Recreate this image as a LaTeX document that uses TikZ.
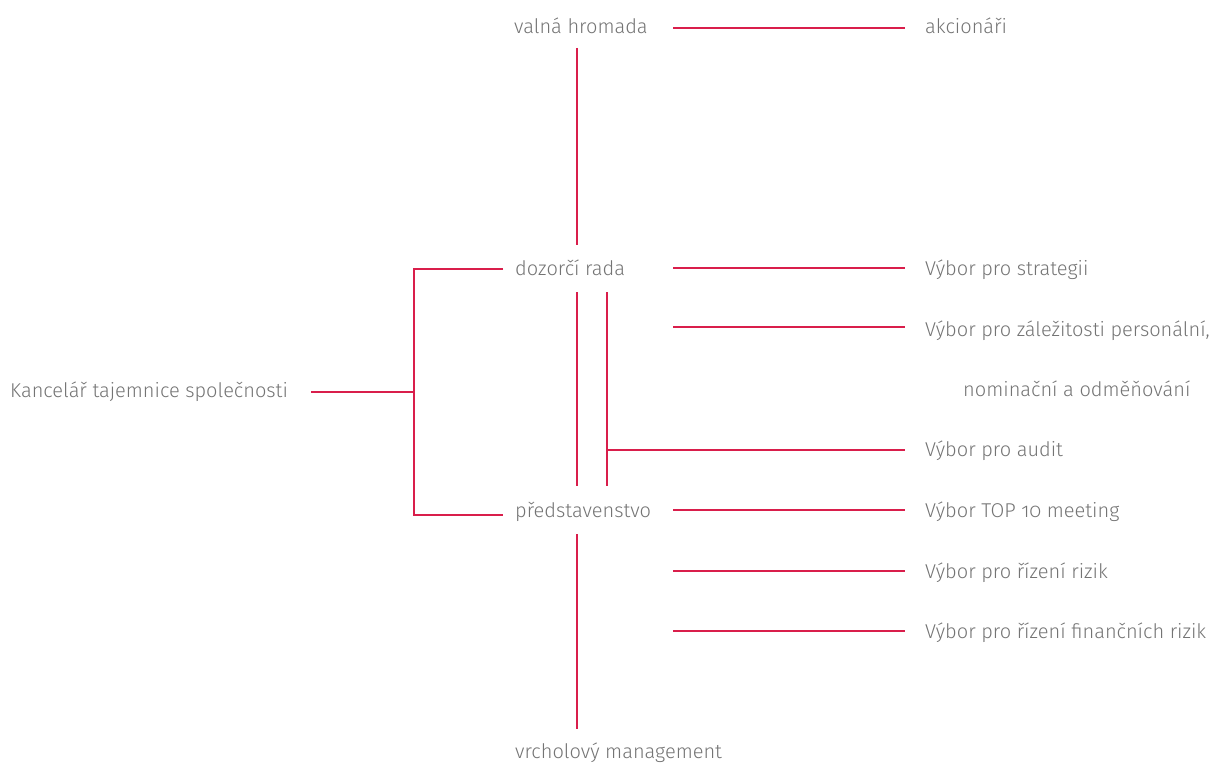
\documentclass[tikz,border=0pt]{standalone}
\usepackage{fontspec}
\setmainfont{Fira Sans Light}[Numbers=OldStyle]
\definecolor{txtgray}{HTML}{747474}
\definecolor{linered}{HTML}{D91E4B}
\begin{document}
\begin{tikzpicture}[x=1bp,y=-1bp,
  lbl/.style={anchor=base west,inner sep=0pt,text=txtgray,font=\fontsize{20bp}{24bp}\selectfont},
  conn/.style={draw=linered,line width=1.4bp}]
\useasboundingbox (0,0) rectangle (1213,765);
% text nodes
\node[lbl] (vh) at (514,33.5) {valná hromada};
\node[lbl] (ak) at (925,33.5) {akcionáři};
\node[lbl] (dr) at (515,275.5) {dozorčí rada};
\node[lbl] (vs) at (925,275.5) {Výbor pro strategii};
\node[lbl] (vz) at (925,336.5) {Výbor pro záležitosti personální,};
\node[lbl] (vn) at (963,396.5) {nominační a odměňování};
\node[lbl] (va) at (925,456.5) {Výbor pro audit};
\node[lbl] (ps) at (515,517.5) {představenstvo};
\node[lbl] (vt) at (925,517.5) {Výbor TOP 10 meeting};
\node[lbl] (vr) at (925,578.5) {Výbor pro řízení rizik};
\node[lbl] (vf) at (925,638.5) {Výbor pro řízení finančních rizik};
\node[lbl] (vm) at (515,758.5) {vrcholový management};
\node[lbl] (kt) at (10,397) {Kancelář tajemnice společnosti};
% connector end points
\coordinate (vhR) at (673,28);   \coordinate (akL) at (905,28);
\coordinate (vhB) at (577,48);   \coordinate (drT) at (577,245);
\coordinate (drR) at (673,268);  \coordinate (vsL) at (905,268);
\coordinate (zR) at (673,327);   \coordinate (vzL) at (905,327);
\coordinate (drB1) at (577,292); \coordinate (psT1) at (577,486);
\coordinate (drB2) at (607,292); \coordinate (psT2) at (607,486);
\coordinate (aJ) at (607,450);   \coordinate (vaL) at (905,450);
\coordinate (psR) at (673,510);  \coordinate (vtL) at (905,510);
\coordinate (rR) at (673,571);   \coordinate (vrL) at (905,571);
\coordinate (fR) at (673,631);   \coordinate (vfL) at (905,631);
\coordinate (psB) at (577,534);  \coordinate (vmT) at (577,729);
\coordinate (ktR) at (311,392);  \coordinate (bJ) at (414,392);
\coordinate (bT) at (414,269);   \coordinate (drL) at (503,269);
\coordinate (bB) at (414,515);   \coordinate (psL) at (503,515);
% connectors
\draw[conn] (vhR) -- (akL);
\draw[conn] (vhB) -- (drT);
\draw[conn] (drR) -- (vsL);
\draw[conn] (zR) -- (vzL);
\draw[conn] (drB1) -- (psT1);
\draw[conn] (drB2) -- (psT2);
\draw[conn] (aJ) -- (vaL);
\draw[conn] (psR) -- (vtL);
\draw[conn] (rR) -- (vrL);
\draw[conn] (fR) -- (vfL);
\draw[conn] (psB) -- (vmT);
\draw[conn] (ktR) -- (bJ);
\draw[conn] (drL) -- (bT) -- (bB) -- (psL);
\end{tikzpicture}
\end{document}
